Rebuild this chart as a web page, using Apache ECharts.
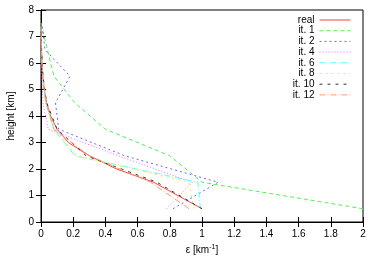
<!DOCTYPE html>
<html><head><meta charset="utf-8">
<script src="https://cdn.jsdelivr.net/npm/echarts@6/dist/echarts.min.js"></script>
<style>html,body{margin:0;padding:0;background:#fff}#c{width:377px;height:265px}</style>
</head><body><div id="c"></div>
<script>
// heights [km]
const realHeights = [0.5,1.0,1.5,2.0,2.5,3.0,3.5,4.0,4.5,5.0,5.5,6.0,6.5,7.0];
const realEps     = [1.0,0.85,0.70,0.47,0.30,0.17,0.10,0.06,0.035,0.02,0.012,0.006,0.003,0.0];
const iterHeights = [0.5,1.5,2.5,3.5,4.5,5.5,6.5,7.5];
const it1  = [2.0, 1.0, 0.80, 0.40, 0.21, 0.08, 0.04, 0.0];
const it2  = [0.82, 1.10, 0.52, 0.11, 0.09, 0.18, 0.025, 0.005];
const it4  = [0.78, 0.94, 0.48, 0.045, 0.012, 0.005, 0.002, 0.0];
const it6  = [0.99, 0.975, 0.21, 0.08, 0.03, 0.01, 0.003, 0.0];
const it8  = [0.95, 0.92, 0.22, 0.09, 0.03, 0.012, 0.004, 0.0];
const it10 = [1.0, 0.72, 0.28, 0.10, 0.035, 0.012, 0.004, 0.0];
const it12 = [0.92, 0.68, 0.30, 0.08, 0.03, 0.01, 0.003, 0.0];
const names = ['real','it. 1','it. 2','it. 4','it. 6','it. 8','it. 10','it. 12'];
const xTicks = [0,0.2,0.4,0.6,0.8,1,1.2,1.4,1.6,1.8,2];
const yTicks = [0,1,2,3,4,5,6,7,8];

const colors = ['#ff4040','#55ee55','#6666ff','#ff66ff','#55ffff','#eeee33','#333333','#ff9966'];
const types = ['solid',[4,3],[2,3],[1,2],[6,2,1,2],[2,4],[3,5],[6,2,1,2]];
const sets = [[realEps,realHeights],[it1,iterHeights],[it2,iterHeights],[it4,iterHeights],[it6,iterHeights],[it8,iterHeights],[it10,iterHeights],[it12,iterHeights]];

const font = 'Liberation Sans, Arial, sans-serif';
const chart = echarts.init(document.getElementById('c'), null, {renderer:'canvas'});
const axisCommon = {
  axisLine:{show:true,lineStyle:{color:'#000',width:1}},
  axisTick:{show:true,inside:true,length:5,lineStyle:{color:'#000'}},
  splitLine:{show:false},
};
chart.setOption({
  animation:false,
  grid:{left:41,right:14,top:10,bottom:43,show:true,borderColor:'#000',borderWidth:1,outerBoundsMode:'none',containLabel:false},
  xAxis:[
    Object.assign({type:'value',min:0,max:2,interval:0.2,position:'bottom',
      axisLabel:{fontSize:10,color:'#000',fontFamily:font,margin:7},
      name:'{a|ε [km}{s|-1}{a|]}',nameLocation:'middle',nameGap:15,
      nameTextStyle:{rich:{a:{fontSize:10,fontFamily:font,color:'#000'},s:{fontSize:7,fontFamily:font,color:'#000',verticalAlign:'top',padding:[0,0,6,0]}}}
    },axisCommon),
    Object.assign({type:'value',min:0,max:2,interval:0.2,position:'top',axisLabel:{show:false}},axisCommon)
  ],
  yAxis:[
    Object.assign({type:'value',min:0,max:8,interval:1,position:'left',
      axisLabel:{fontSize:10,color:'#000',fontFamily:font,margin:7},
      name:'height [km]',nameLocation:'middle',nameGap:25,
      nameTextStyle:{fontSize:10,fontFamily:font,color:'#000'}
    },axisCommon),
    Object.assign({type:'value',min:0,max:8,interval:1,position:'right',axisLabel:{show:false}},axisCommon)
  ],
  legend: names.map((n,i)=>({
    data:[n], orient:'vertical', right:26, top:15+i*10.7, align:'right',
    itemWidth:31, itemHeight:10, padding:0, itemGap:0,
    itemStyle:{opacity:0}, lineStyle:{width:1},
    textStyle:{fontSize:10,fontFamily:font,color:'#000'}
  })),
  series: sets.map((s,i)=>({
    name:names[i], type:'line', showSymbol:false, symbol:'none',
    data: s[0].map((v,j)=>[v,s[1][j]]),
    lineStyle:{color:colors[i],width:1,type:types[i]},
    itemStyle:{color:colors[i]}
  }))
});
</script></body></html>
